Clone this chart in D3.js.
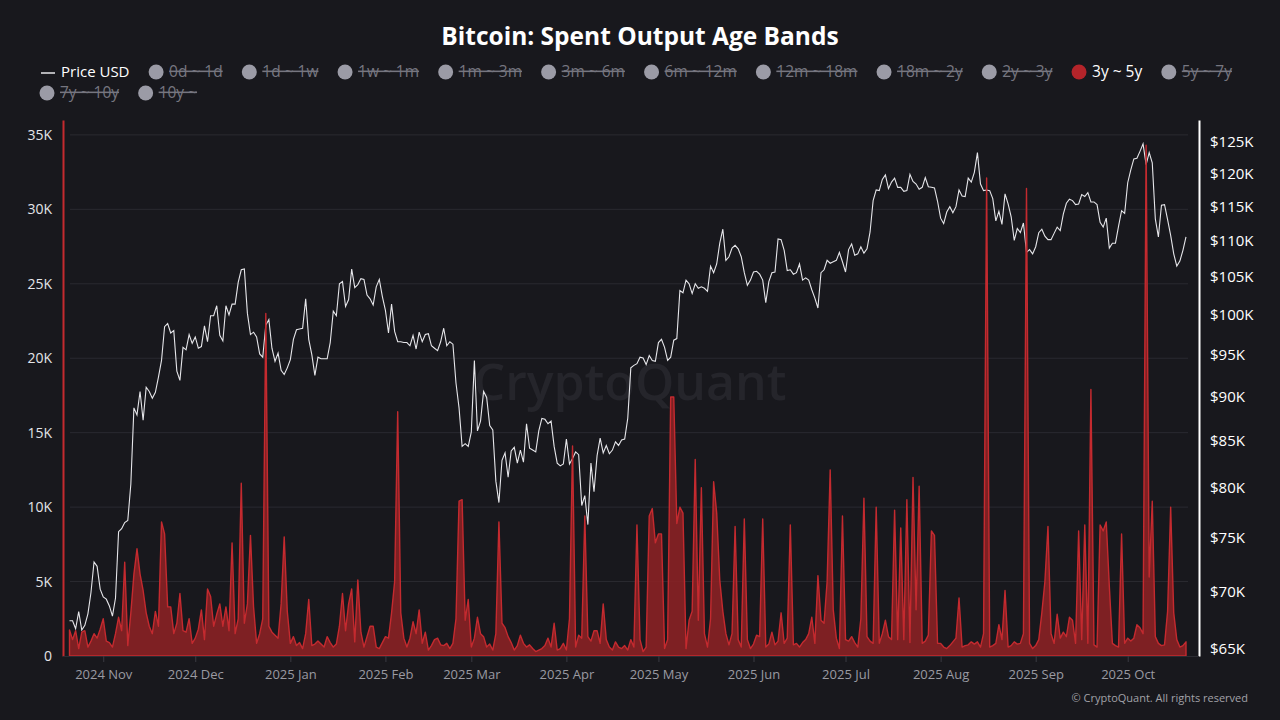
<!DOCTYPE html>
<html>
<head>
<meta charset="utf-8">
<script src="https://cdn.jsdelivr.net/npm/d3@7"></script>
<style>
  body { margin: 0; background: #18181d; }
  svg { display: block; font-family: "Open Sans", sans-serif; }
</style>
</head>
<body>
<div id="chart"></div>
<script>
// Daily series, 2024-10-21 .. 2025-10-20
var startDate = "2024-10-21";

// BTC price, thousands of USD
var priceUsdK = [
  67.4, 67.4, 66.7, 68.2, 66.6, 67.0, 68.0, 69.9, 72.7, 72.3, 70.2,
  69.5, 69.3, 68.7, 67.8, 69.4, 75.6, 75.9, 76.5, 76.7, 80.4, 88.7, 87.9, 90.6, 87.3, 91.1, 90.6, 89.8, 90.5, 92.3, 94.3,
  98.5, 98.9, 97.7, 98.0, 93.0, 91.9, 95.9, 95.6, 97.5, 96.4,
  97.2, 95.8, 96.0, 98.6, 96.6, 99.9, 99.9, 101.2, 97.4, 96.7, 101.2, 100.0, 101.4, 101.4, 104.3, 106.0, 106.1, 100.2,
  97.5, 97.8, 97.2, 95.1, 94.7, 98.7, 99.4, 95.8, 94.2, 95.2, 93.1, 92.6, 93.4,
  94.4, 96.9, 98.1, 98.2, 98.3, 102.1, 96.9, 95.0, 92.5, 94.7, 94.5, 94.5, 94.5, 96.5, 100.5, 99.9, 104.1, 104.4,
  101.1, 102.0, 106.1, 103.6, 104.0, 104.8, 104.7, 102.6, 102.1, 101.3, 103.7, 104.7, 102.4,
  100.6, 97.7, 101.4, 97.9, 96.6, 96.6, 96.5, 96.5, 96.1, 97.4, 95.7, 97.8, 96.6, 97.5, 97.6, 96.1, 95.8, 95.5,
  96.6, 98.3, 96.1, 96.6, 96.3, 91.6, 88.7, 84.4, 84.7, 84.4,
  86.0, 94.3, 86.1, 87.2, 90.6, 89.9, 86.7, 86.2, 80.7, 78.5, 82.9, 83.7, 81.1, 83.9, 84.3, 82.6, 84.0, 82.7,
  86.9, 84.2, 84.0, 83.8, 86.1, 87.5, 87.4, 86.9, 87.2, 84.4, 82.6, 82.3, 82.5,
  85.2, 82.5, 83.1, 83.8, 83.5, 78.2, 79.2, 76.3, 82.6, 79.6, 83.4, 85.3, 83.7, 84.5, 83.6, 84.0, 84.9, 84.5,
  85.1, 85.2, 87.5, 93.4, 93.7, 93.9, 94.7, 94.6, 93.8, 94.9, 94.3, 94.2,
  96.5, 96.9, 95.9, 94.3, 94.7, 96.8, 97.0, 103.2, 102.9, 104.6, 104.1, 102.8, 104.1, 103.5, 103.7, 103.5, 103.1,
  106.5, 105.6, 106.8, 109.7, 111.7, 107.3, 107.8, 109.0, 109.4, 108.9, 107.8, 105.6, 103.9, 104.6,
  105.7, 105.8, 105.4, 104.6, 101.6, 104.4, 105.6, 105.7, 110.3, 110.2, 108.7, 105.9, 106.0, 105.4, 105.6,
  106.8, 104.6, 104.9, 104.6, 103.3, 102.2, 100.9, 105.6, 106.0, 107.3, 106.9, 107.1, 107.3, 108.4, 107.1,
  105.7, 108.8, 109.6, 108.0, 108.2, 109.2, 108.3, 108.9, 111.3, 115.9, 117.5, 117.4, 119.1, 119.8, 117.7, 118.7,
  119.3, 117.9, 117.9, 117.3, 117.4, 119.9, 118.8, 118.4, 117.6, 117.9, 119.4, 118.0, 117.9, 117.8, 115.8,
  113.3, 112.5, 114.2, 115.0, 114.1, 115.0, 117.5, 116.6, 116.5, 119.3, 118.7, 120.2, 123.3, 118.4, 117.4, 117.5,
  117.4, 116.2, 112.9, 114.3, 112.4, 116.9, 115.4, 113.5, 110.1, 111.8, 111.2, 112.6, 108.4, 108.8, 108.2,
  109.2, 111.2, 111.7, 110.7, 110.2, 110.2, 111.1, 112.0, 111.5, 113.9, 115.5, 116.1, 115.9, 115.3, 115.4,
  116.8, 116.5, 117.1, 115.7, 115.7, 115.3, 112.7, 112.0, 113.3, 109.0, 109.7, 109.7, 112.1, 114.4, 114.0,
  118.6, 120.6, 122.3, 122.4, 123.5, 124.7, 121.4, 123.3, 121.7, 113.2, 110.6, 115.2, 115.3, 113.1, 110.8,
  108.2, 106.5, 107.2, 108.7, 110.6
];

// Spent output 3y ~ 5y, BTC
var spent3y5y = [
  1750, 1100, 1700, 500, 1600, 1700, 600, 1000, 1500, 1200, 1800, 2500, 1000, 900, 600, 1500, 2600, 1700, 6300, 700,
  2900, 5500, 7200, 5500, 4400, 2900, 2000, 1500, 3000, 2000, 9000, 8200, 3300, 3300, 1500, 2200, 4200, 1700, 1600, 2500,
  850, 1200, 1800, 3100, 1100, 4500, 4000, 2000, 2800, 3500, 2000, 3300, 1700, 7600, 1500, 2500, 11600, 2200, 3500, 8100,
  3300, 850, 1500, 2500, 23000, 2000, 1600, 1400, 1200, 3500, 8000, 3000, 850, 1300, 700, 900, 500, 1500, 3800, 700,
  800, 1000, 800, 600, 1300, 900, 600, 800, 2000, 4200, 1700, 3500, 4500, 950, 5100, 1600, 600, 1300, 2000, 2000,
  600, 500, 900, 1300, 1200, 2900, 5000, 16400, 2900, 1200, 600, 1200, 2300, 1500, 3100, 850, 1600, 400, 700, 1100,
  1200, 750, 700, 850, 500, 850, 2500, 10400, 10500, 2400, 3800, 600, 1200, 2600, 1500, 1300, 600, 800, 400, 1500,
  9000, 2200, 1900, 1300, 900, 400, 700, 1400, 850, 600, 750, 500, 300, 400, 500, 700, 1200, 600, 2200, 400,
  500, 850, 400, 2500, 14100, 600, 1400, 1200, 9400, 1300, 1000, 1700, 1700, 850, 3500, 1100, 600, 400, 950, 600,
  500, 700, 400, 1100, 600, 8800, 1100, 300, 600, 9400, 9900, 7600, 8200, 8200, 500, 1100, 17400, 17400, 8900, 10000,
  9600, 500, 2400, 3000, 13200, 2400, 11300, 1500, 600, 2500, 11700, 9600, 5100, 3000, 1500, 750, 1500, 8700, 1100, 600,
  9200, 1100, 500, 800, 1400, 1300, 9200, 600, 800, 1600, 750, 1000, 2900, 850, 1200, 8800, 750, 850, 600, 900,
  1100, 1500, 2600, 850, 5400, 2400, 2200, 5000, 12500, 3100, 1200, 500, 9400, 1100, 1000, 1300, 900, 600, 2500, 10600,
  1300, 1000, 850, 10000, 850, 1500, 2400, 1300, 1100, 9800, 1100, 8600, 1100, 10500, 900, 12000, 3100, 11400, 850, 1000,
  1400, 8400, 8100, 850, 850, 600, 500, 700, 950, 1200, 3900, 600, 700, 750, 950, 800, 950, 600, 1500, 32100,
  600, 700, 850, 2100, 1100, 4400, 600, 700, 950, 800, 850, 1500, 31400, 850, 500, 700, 1100, 2900, 5000, 8700,
  1500, 850, 2800, 1200, 1600, 1300, 2600, 2400, 850, 8400, 1100, 8800, 850, 17900, 750, 600, 8800, 8400, 9000, 4700,
  850, 700, 600, 8200, 850, 1200, 1000, 1200, 2100, 1900, 1500, 34300, 5300, 10400, 1300, 850, 700, 750, 3000, 10000,
  2900, 1100, 600, 700, 950
];

var leftTicks = [0, 5000, 10000, 15000, 20000, 25000, 30000, 35000];
var rightTicks = [65, 70, 75, 80, 85, 90, 95, 100, 105, 110, 115, 120, 125];
var monthTicks = ["2024-11-01", "2024-12-01", "2025-01-01", "2025-02-01", "2025-03-01", "2025-04-01",
  "2025-05-01", "2025-06-01", "2025-07-01", "2025-08-01", "2025-09-01", "2025-10-01"];
var bandNames = ["0d ~ 1d", "1d ~ 1w", "1w ~ 1m", "1m ~ 3m", "3m ~ 6m", "6m ~ 12m", "12m ~ 18m",
  "18m ~ 2y", "2y ~ 3y", "3y ~ 5y", "5y ~ 7y", "7y ~ 10y", "10y ~"];
var activeBand = "3y ~ 5y";

var W = 1280, H = 720;
var plot = { left: 63, right: 1199, top: 120, bottom: 656 };
var red = "#c42a2f";

var parseDay = d3.timeParse("%Y-%m-%d");
var t0 = parseDay(startDate);
var rows = priceUsdK.map(function(p, i) {
  return { date: d3.timeDay.offset(t0, i), price: p, spent: spent3y5y[i] };
});

var svg = d3.select("#chart").append("svg")
  .attr("width", W)
  .attr("height", H);

svg.append("rect").attr("width", W).attr("height", H).attr("fill", "#18181d");

// Scales
var x = d3.scaleTime()
  .domain([rows[0].date, rows[rows.length - 1].date])
  .range([69.5, 1186]);
var yLeft = d3.scaleLinear().domain([0, 36000]).range([plot.bottom, plot.top]);
var yRight = d3.scaleLog().domain([64.4, 128.6]).range([plot.bottom, plot.top]);

// Title
svg.append("text")
  .attr("x", 640).attr("y", 45)
  .attr("text-anchor", "middle")
  .attr("fill", "#ffffff")
  .attr("font-size", 24.5).attr("font-weight", 700)
  .text("Bitcoin: Spent Output Age Bands");

// Watermark
svg.append("text")
  .attr("x", 630).attr("y", 400)
  .attr("text-anchor", "middle")
  .attr("fill", "#25252b")
  .attr("font-size", 50).attr("font-weight", 600)
  .text("CryptoQuant");

// Grid
svg.append("g").selectAll("line")
  .data(leftTicks.slice(1))
  .enter().append("line")
  .attr("x1", 70).attr("x2", 1188)
  .attr("y1", d => yLeft(d)).attr("y2", d => yLeft(d))
  .attr("stroke", "#2a2a31").attr("stroke-width", 1);

// Price line
var priceLine = d3.line()
  .x(d => x(d.date))
  .y(d => yRight(d.price));
svg.append("path")
  .datum(rows)
  .attr("d", priceLine)
  .attr("fill", "none")
  .attr("stroke", "#e6e6ea")
  .attr("stroke-width", 1.1);

// Spent output area
var area = d3.area()
  .x(d => x(d.date))
  .y0(yLeft(0))
  .y1(d => yLeft(d.spent));
svg.append("path")
  .datum(rows)
  .attr("d", area)
  .attr("fill", "#8a2125")
  .attr("fill-opacity", 0.9)
  .attr("stroke", red)
  .attr("stroke-width", 1.4)
  .attr("stroke-linejoin", "round");

// Left axis
var leftAxis = svg.append("g")
  .attr("transform", "translate(" + plot.left + ",0)")
  .call(d3.axisLeft(yLeft).tickValues(leftTicks).tickSize(0).tickPadding(11)
    .tickFormat(d => d === 0 ? "0" : (d / 1000) + "K"));
leftAxis.select(".domain").attr("stroke", red).attr("stroke-width", 2);
leftAxis.selectAll("text").attr("fill", "#e4e4e8").attr("font-size", 14)
  .attr("font-family", "Open Sans, sans-serif");

// Right axis
var rightAxis = svg.append("g")
  .attr("transform", "translate(" + plot.right + ",0)")
  .call(d3.axisRight(yRight).tickValues(rightTicks).tickSize(0).tickPadding(11)
    .tickFormat(d => "$" + d + "K"));
rightAxis.select(".domain").attr("stroke", "#ffffff").attr("stroke-width", 2);
rightAxis.selectAll("text").attr("fill", "#ffffff").attr("font-size", 15)
  .attr("font-family", "Open Sans, sans-serif");

// Bottom axis
var bottomAxis = svg.append("g")
  .attr("transform", "translate(0," + plot.bottom + ")")
  .call(d3.axisBottom(x).tickValues(monthTicks.map(parseDay)).tickSize(6).tickPadding(8)
    .tickFormat(d3.timeFormat("%Y %b")));
bottomAxis.select(".domain").attr("stroke", "#2c2c33").attr("d", "M63,0.5H1199");
bottomAxis.selectAll(".tick line").attr("stroke", "#3a3a42");
bottomAxis.selectAll("text").attr("fill", "#9a9aa2").attr("font-size", 13)
  .attr("font-family", "Open Sans, sans-serif");

// Legend
var legend = svg.append("g");
var lx = 40, ly = 72;
var legendEntries = [{ name: "Price USD", kind: "line" }].concat(bandNames.map(function(n) {
  return { name: n, kind: "circle" };
}));
legendEntries.forEach(function(e) {
  var active = e.kind === "line" || e.name === activeBand;
  var g = legend.append("g");
  var label = g.append("text")
    .attr("y", 5)
    .attr("font-size", e.kind === "line" ? 15 : 15.5)
    .attr("fill", active ? "#ffffff" : "#767680")
    .attr("text-decoration", active ? null : "line-through")
    .text(e.name);
  var tw = label.node().getComputedTextLength();
  var markerW = e.kind === "line" ? 15 : 14;
  var itemW = markerW + 6 + tw;
  if (lx + itemW > 1255) { lx = 40; ly += 21; }
  g.attr("transform", "translate(" + lx + "," + ly + ")");
  if (e.kind === "line") {
    g.append("line").attr("x1", 1).attr("x2", 15).attr("y1", 1).attr("y2", 1)
      .attr("stroke", "#e6e6ea").attr("stroke-width", 1.5);
  } else {
    g.append("circle").attr("cx", 7).attr("cy", 0).attr("r", 7.5)
      .attr("fill", e.name === activeBand ? "#b4242a" : "#9b9ba6");
  }
  label.attr("x", markerW + 6);
  lx += itemW + 19.6;
});

// Credit
svg.append("text")
  .attr("x", 1248).attr("y", 702)
  .attr("text-anchor", "end")
  .attr("fill", "#a2a2a8")
  .attr("font-size", 11)
  .text("\u00A9 CryptoQuant. All rights reserved");
</script>
</body>
</html>
